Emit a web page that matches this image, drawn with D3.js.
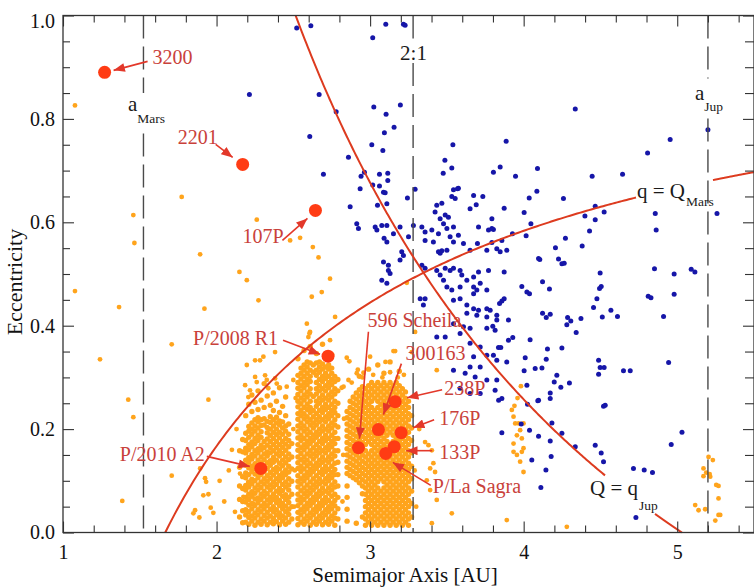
<!DOCTYPE html>
<html><head><meta charset="utf-8">
<script src="https://cdn.jsdelivr.net/npm/d3@7"></script>
<style>body{margin:0;background:#fff}svg{display:block}</style>
</head><body>
<svg id="chart" width="754" height="588"></svg>
<script>
// ---------------- DATA ----------------
const xTickLabels = [1, 2, 3, 4, 5];
const yTickLabels = [0.0, 0.2, 0.4, 0.6, 0.8, 1.0];

// reference orbital limits [AU]
const qMarsAU = 1.666;   // Mars aphelion
const qJupAU = 5.03;     // Jupiter perihelion
const aMarsAU = 1.524;
const res21AU = 3.28;
const aJupAU = 5.2;

// dense main belt: [a, "e values x100"]
const mainBelt = [
[2.15,"3.0 6.4 9.0 12.6 15.8"],
[2.17,"1.9 4.2 6.0 8.5 10.8 13.2 15.6 18.0"],
[2.19,"2.0 3.4 4.4 5.9 6.8 8.2 9.1 10.6 11.5 13.0 14.0 15.4 16.3 17.8 19.2 22.6"],
[2.21,"1.6 2.9 4.0 5.3 6.4 7.4 8.8 9.7 11.2 12.5 13.6 14.5 16.0 17.0 18.4 19.6 20.5 24.8"],
[2.23,"2.2 3.2 4.6 5.6 7.0 7.9 9.4 10.3 11.8 12.8 14.2 15.1 16.6 17.5 19.0 20.0 21.2 23.4 26.6"],
[2.25,"1.4 2.8 3.8 5.2 6.5 7.6 8.6 10.0 11.3 12.4 13.3 14.8 15.8 17.2 18.2 19.6 20.6 21.8 25.2"],
[2.27,"2.0 3.4 4.4 5.8 6.7 8.2 9.2 10.6 11.6 13.0 14.0 15.4 16.2 17.8 18.8 20.2 21.4 22.2 23.8 27.4"],
[2.29,"1.6 2.6 4.0 5.1 6.4 7.4 8.7 9.8 11.2 12.2 13.5 14.6 16.0 16.9 18.4 19.5 20.7 21.8 25.6"],
[2.31,"2.2 3.3 4.6 5.6 7.0 8.0 9.4 10.4 11.8 12.7 14.1 15.2 16.4 17.6 20.8 22.0 24.2 28.8"],
[2.33,"1.5 2.8 3.9 5.2 6.3 7.5 8.8 9.9 11.0 12.4 13.5 14.8 15.6 16.9 18.1 19.3 20.3 21.5 26.4"],
[2.35,"2.0 3.2 4.5 5.8 6.8 8.2 9.2 10.5 11.6 13.0 13.9 15.4 16.4 17.6 18.8 20.0 21.3 22.4 24.6"],
[2.37,"1.7 2.7 4.0 5.0 6.4 7.4 8.8 9.8 11.1 12.2 13.6 14.5 15.8 17.0 18.2 19.4 20.6 21.8 23.6 27.0"],
[2.39,"2.1 3.4 4.4 5.8 6.8 8.0 9.3 10.4 11.7 12.6 14.0 15.2 16.4 17.6 18.9 20.0 21.2 22.3 25.4"],
[2.41,"1.5 2.9 3.8 5.2 6.2 7.6 8.5 10.0 11.0 12.3 13.4 14.8 15.8 17.0 18.3 19.4 20.8 21.6 23.2 28.0"],
[2.43,"2.2 3.2 4.6 5.6 7.0 8.1 9.3 10.6 11.5 12.9 14.0 15.3 16.5 17.6 19.0 20.2 21.4 24.4"],
[2.45,"1.6 2.8 4.0 5.1 6.4 7.3 8.8 9.8 11.2 12.1 13.5 14.6 15.9 17.1 18.2 19.6 20.6 22.6 26.2"],
[2.47,"2.0 3.5 4.5 5.8 6.8 8.2 9.2 10.4 11.7 12.8 14.1 15.2 16.6 17.8 19.0 21.0"],
[2.49,"2.6 5.0 7.4 9.9 12.3 14.6 17.2"],
[2.53,"1.5 2.7 3.9 5.2 6.3 7.4 8.8 9.9 11.0 12.4 13.5 14.6 15.9 17.0 18.3 19.5 20.6 21.9 23.0 24.3 25.4 26.7 27.9 29.0 30.4 33.6"],
[2.55,"2.0 3.4 4.4 5.8 6.8 8.1 9.4 10.4 11.8 12.8 14.1 15.3 16.4 17.8 18.8 20.2 21.2 22.6 23.6 24.9 26.0 27.4 28.4 29.7 30.8 31.8"],
[2.57,"1.6 2.6 4.0 5.0 6.4 7.5 8.6 10.0 11.0 12.3 13.6 14.6 16.0 17.0 18.2 19.6 20.6 22.0 23.0 24.2 25.6 26.6 28.0 29.0 30.2 31.4 32.4 35.2"],
[2.59,"2.2 3.2 4.6 5.6 7.0 8.0 9.2 10.6 11.6 12.9 14.0 15.2 16.6 17.6 18.9 20.0 21.4 22.4 23.8 24.8 26.2 27.2 28.6 29.6 30.8 32.0 33.0"],
[2.61,"1.4 2.8 3.8 5.2 6.2 7.6 8.6 9.8 11.2 12.2 13.4 14.8 15.8 17.2 18.2 19.4 20.8 21.8 23.2 24.2 25.4 26.8 27.8 29.2 30.2 31.4 32.8 36.0"],
[2.63,"2.0 3.4 4.4 5.8 6.8 8.2 9.2 10.4 11.8 12.8 14.2 15.2 16.4 17.8 18.8 20.2 21.2 22.4 23.6 26.3 31.0 32.4"],
[2.65,"1.6 2.6 4.0 5.0 6.4 7.4 8.8 9.8 11.0 12.4 13.4 14.8 15.8 17.0 18.4 19.4 20.8 21.8 23.0 24.4 25.4 26.8 27.8 29.0 30.4 31.4 32.8 34.6"],
[2.67,"2.2 3.2 4.6 5.6 7.0 8.0 9.4 10.4 11.6 13.0 14.0 15.4 16.4 17.6 19.0 20.0 21.4 22.4 23.6 25.0 26.0 27.4 28.4 29.6 31.0 32.0 33.0"],
[2.69,"1.5 2.8 3.8 5.2 6.2 7.6 8.6 9.8 11.2 12.2 13.6 14.6 15.8 17.2 18.2 19.6 20.6 21.8 23.2 24.2 25.6 26.6 27.8 29.2 30.2 31.6 32.6 36.4"],
[2.71,"2.0 3.4 4.4 5.8 6.8 8.0 9.4 10.4 11.8 12.8 14.0 15.4 16.4 17.8 18.8 20.0 21.4 22.4 23.8 24.8 26.0 27.4 28.4 29.8 30.8 32.0"],
[2.73,"1.6 2.6 4.0 5.0 6.2 7.6 8.6 10.0 11.0 12.2 13.6 14.6 16.0 17.0 18.2 19.6 20.6 22.0 23.0 24.2 25.6 26.6 28.0 29.0 30.2 31.6 32.4"],
[2.75,"2.2 3.2 4.6 5.6 7.0 8.2 9.2 10.6 11.6 12.8 14.2 15.2 16.6 17.6 18.8 20.2 21.2 22.6 23.6 24.8 26.2 27.2 28.6 29.6 30.8 31.8 34.4"],
[2.77,"1.4 2.8 3.8 5.2 6.2 7.4 8.8 9.8 11.2 12.2 13.4 14.8 15.8 17.2 18.2 19.4 20.8 21.8 23.2 24.2 25.4 26.8 27.8 29.2 30.2"],
[2.79,"2.6 4.6 6.8 9.0 11.2 13.6 15.8 18.2 20.4 22.6 25.0 27.4 29.6"],
[2.85,"2.2 4.5 6.8 9.0 11.4 12.6 13.8 15.0 16.2 17.4 18.6 19.8 21.0 22.2 23.4"],
[2.87,"11.0 12.2 13.4 14.6 15.8 17.0 18.2 19.4 20.6 21.8 23.0 24.2 25.4"],
[2.89,"10.6 11.8 13.0 14.2 15.4 16.6 17.8 19.0 20.2 21.4 22.6 23.8 25.0 26.2"],
[2.91,"1.8 10.2 11.4 12.6 13.8 15.0 16.2 17.4 18.6 19.8 21.0 22.2 23.4 24.6 25.8 27.0"],
[2.93,"9.6 10.8 12.0 13.2 14.4 15.6 16.8 18.0 19.2 20.4 21.6 22.8 24.0 25.2 26.4 27.6 30.2"],
[2.95,"3.0 7.5 9.0 10.2 11.4 12.6 13.8 15.0 16.2 17.4 18.6 19.8 21.0 22.2 23.4 24.6 25.8 27.0 28.2"],
[2.97,"1.4 2.6 3.8 5.0 6.2 7.4 8.6 9.8 11.0 12.2 13.4 14.6 15.8 17.0 18.2 19.4 20.6 21.8 23.0 24.2 25.4 26.6 27.8"],
[2.99,"2.0 3.2 4.4 5.6 6.8 8.0 9.2 10.4 11.6 12.8 14.0 15.2 17.6 18.8 20.0 21.2 22.4 23.6 24.8 26.0 27.2 28.4 31.6"],
[3.01,"1.4 2.6 3.8 5.0 6.2 7.4 8.6 9.8 11.0 12.2 13.4 14.6 15.8 17.0 18.2 19.4 20.6 21.8 23.0 24.2 25.4 26.6 27.8 29.0"],
[3.03,"2.0 3.2 4.4 5.6 6.8 8.0 9.2 10.4 11.6 12.8 14.0 15.2 16.4 17.6 18.8 20.0 21.2 22.4 23.6 26.0 27.2 28.4"],
[3.05,"1.4 2.6 3.8 5.0 6.2 7.4 8.6 9.8 11.0 12.2 13.4 14.6 15.8 17.0 18.2 19.4 20.6 21.8 23.0 24.2 25.4 26.6 27.8 29.0 32.4"],
[3.07,"2.0 3.2 4.4 5.6 6.8 8.0 10.4 11.6 12.8 14.0 15.2 16.4 17.6 18.8 20.0 21.2 22.4 23.6 24.8 26.0 27.2 28.4"],
[3.09,"1.4 2.6 3.8 5.0 6.2 7.4 8.6 9.8 11.0 12.2 13.4 14.6 15.8 17.0 18.2 19.4 20.6 21.8 23.0 24.2 25.4 26.6 27.8 29.0 30.8"],
[3.11,"2.0 3.2 4.4 5.6 6.8 8.0 9.2 10.4 11.6 12.8 14.0 15.2 16.4 17.6 18.8 20.0 21.2 22.4 23.6 24.8 26.0 27.2 28.4"],
[3.13,"1.4 2.6 3.8 5.0 6.2 7.4 8.6 9.8 11.0 12.2 13.4 14.6 15.8 17.0 19.4 20.6 21.8 23.0 24.2 25.4 26.6 27.8 29.0 33.0"],
[3.15,"2.0 3.2 4.4 5.6 6.8 8.0 9.2 10.4 11.6 12.8 14.0 15.2 16.4 17.6 18.8 20.0 21.2 22.4 23.6 24.8 26.0 27.2 28.4"],
[3.17,"1.4 2.6 3.8 5.0 6.2 7.4 8.6 9.8 11.0 12.2 13.4 14.6 15.8 17.0 18.2 19.4 20.6 21.8 23.0 24.2 25.4 26.6 27.8 29.0"],
[3.19,"2.0 3.2 4.4 5.6 6.8 8.0 9.2 10.4 11.6 12.8 14.0 15.2 16.4 17.6 18.8 20.0 21.2 22.4 23.6 24.8 26.0 27.2 28.4 31.2"],
[3.21,"1.4 2.6 3.8 5.0 6.2 7.4 8.6 9.8 11.0 12.2 13.4 14.6 15.8 17.0 18.2 19.4 20.6 21.8 23.0 24.2 25.4 26.6 27.8"],
[3.23,"2.0 3.2 4.4 5.6 6.8 8.0 9.2 10.4 11.6 12.8 14.0 15.2 16.4 17.6 18.8 20.0 21.2 22.4 23.6 24.8 26.0 27.2"],
[3.25,"1.4 2.6 3.8 5.0 6.2 7.4 8.6 9.8 11.0 12.2 13.4 14.6 15.8 17.0 18.2 19.4 20.6 21.8 23.0 24.2 25.4"],
[3.27,"3.0 5.6 8.0 10.4 12.8 15.4 17.8 20.2 22.6"]
];

// scattered asteroids [a, e]
const asteroidsSparse = [
[1.078,0.826],[1.773,0.649],[1.458,0.614],[1.465,0.560],[1.078,0.467],[1.365,0.436],[1.893,0.538],
[2.149,0.504],[2.197,0.488],[2.262,0.605],[2.273,0.449],[1.921,0.433],[1.708,0.364],[1.241,0.335],
[2.251,0.333],[2.262,0.291],[1.425,0.257],[1.947,0.257],[1.458,0.223],[1.708,0.110],[1.386,0.061],
[1.893,0.124],[1.925,0.105],[1.932,0.098],[1.914,0.072],[1.947,0.074],[1.860,0.043],[1.849,0.037],
[1.888,0.029],[1.962,0.048],[1.979,0.038],[2.153,0.114],[2.175,0.069],[2.186,0.043],[2.218,0.031],
[2.240,0.056],[2.207,0.098],[2.05,0.06],[2.08,0.12],[2.10,0.16],[2.12,0.04],[2.02,0.10],[2.13,0.20],
[2.479,0.565],[2.544,0.570],[2.627,0.552],[2.664,0.532],[2.620,0.456],[2.685,0.465],[2.739,0.491],
[2.772,0.417],[2.588,0.404],[2.609,0.388],[2.598,0.378],[3.239,0.483],[3.293,0.388],[3.434,0.314],
[3.152,0.351],[3.000,0.340],[2.913,0.308],[2.859,0.295],[2.827,0.282],[2.739,0.372],[2.653,0.346],
[2.381,0.349],[2.283,0.333],[2.197,0.324],[2.251,0.301],[2.327,0.295],[2.392,0.288],[2.500,0.295],
[2.305,0.340],[2.605,0.385],[2.848,0.338],[2.865,0.331],[2.957,0.309],[3.163,0.351],[3.271,0.349],
[2.186,0.285],[2.218,0.275],[2.207,0.262],[2.316,0.304],[2.381,0.298],[2.337,0.279],[2.457,0.282],
[2.505,0.05],[2.51,0.12],[2.50,0.20],[2.515,0.26],[2.82,0.06],[2.825,0.15],[2.83,0.22],[2.815,0.28],
[2.88,0.29],[2.95,0.30],[3.02,0.305],[3.08,0.30],[3.13,0.31],[3.18,0.30],[3.22,0.305],[3.10,0.33],[2.92,0.315],
[3.30,0.05],[3.32,0.20],[3.29,0.12],
[3.358,0.175],[3.380,0.169],[3.402,0.159],[3.412,0.134],[3.391,0.124],[3.423,0.117],[3.369,0.101],
[3.391,0.082],[3.434,0.063],[3.532,0.037],[3.402,0.018],
[3.923,0.237],[3.934,0.224],[3.945,0.211],[3.967,0.211],[3.999,0.211],[3.977,0.198],[3.956,0.188],
[3.988,0.182],[3.934,0.172],[3.999,0.163],[3.934,0.156],[3.988,0.156],[3.956,0.150],[3.977,0.137],
[3.999,0.117],[3.890,0.024],[4.281,0.011],[3.982,0.283],[3.96,0.26],[3.94,0.245],
[5.204,0.146],[5.232,0.140],[5.171,0.124],[5.189,0.116],[5.211,0.113],[5.215,0.108],[5.171,0.109],
[5.254,0.092],[5.269,0.090],[5.269,0.066],[5.117,0.053],[5.139,0.043],[5.182,0.045],[5.269,0.034],
[5.280,0.034],[5.248,0.023]
];

// comets [a, e]
const comets = [
[2.522,0.976],[2.614,0.980],[3.102,0.983],[3.217,0.983],[3.228,0.981],[3.017,0.957],
[2.214,0.847],[2.668,0.847],[2.779,0.814],[3.024,0.823],[3.104,0.809],[3.197,0.827],[3.156,0.784],
[3.093,0.773],[2.607,0.766],[3.011,0.750],[3.083,0.739],[3.539,0.750],[2.859,0.726],[3.487,0.720],
[3.532,0.705],[3.476,0.695],[2.696,0.693],[2.941,0.689],[2.963,0.697],[3.061,0.693],[3.115,0.695],
[3.115,0.681],[2.935,0.665],[3.017,0.672],[3.061,0.670],[3.087,0.658],[3.098,0.657],[3.293,0.664],
[3.243,0.647],[3.803,0.697],[3.847,0.707],[3.543,0.663],[3.575,0.666],[3.532,0.650],[3.734,0.650],
[4.336,0.819],[3.886,0.757],[5.200,0.779],[4.954,0.760],[4.807,0.734],[4.090,0.704],[3.947,0.689],
[4.446,0.689],[4.644,0.693],[4.086,0.660],[4.036,0.647],[4.259,0.646],
[3.873,0.627],[4.003,0.619],[4.047,0.597],[3.927,0.578],[4.016,0.574],[3.803,0.586],[3.858,0.565],
[3.793,0.561],[4.466,0.631],[4.524,0.620],[4.399,0.612],[4.466,0.605],[4.429,0.583],[4.272,0.569],
[4.381,0.554],[4.207,0.551],[4.857,0.617],[4.863,0.585],[5.259,0.617],[3.847,0.543],[3.890,0.546],
[4.097,0.530],[4.105,0.528],[4.227,0.529],[4.249,0.520],[4.264,0.521],[3.873,0.504],[4.498,0.502],
[4.852,0.510],[4.980,0.500],[5.091,0.509],[5.115,0.504],[3.988,0.476],[4.021,0.465],[4.038,0.462],
[4.123,0.485],[4.168,0.471],[4.505,0.476],[4.494,0.472],[4.477,0.452],[4.455,0.435],[4.512,0.417],
[4.568,0.430],[4.611,0.418],[4.811,0.457],[4.829,0.454],[4.980,0.461],[4.911,0.418],[3.873,0.452],
[3.858,0.448],[3.843,0.443],[3.782,0.430],[3.825,0.420],[3.799,0.399],[3.901,0.411],[4.123,0.424],
[4.147,0.416],[4.173,0.422],[4.286,0.416],[4.307,0.409],[4.281,0.402],[4.373,0.414],[4.342,0.387],
[3.901,0.372],[3.929,0.377],[4.042,0.373],[3.836,0.358],[3.851,0.358],[3.803,0.343],[4.155,0.355],
[4.249,0.357],[3.890,0.330],[4.010,0.338],[4.003,0.313],[4.075,0.317],[4.119,0.318],[4.147,0.335],
[4.488,0.333],[4.498,0.319],[4.524,0.319],[4.488,0.306],[4.650,0.313],[4.694,0.313],[4.944,0.329],
[4.216,0.304],[4.199,0.291],[4.242,0.281],[4.298,0.289],[4.021,0.285],[4.173,0.270],[4.097,0.256],
[3.814,0.275],[3.858,0.259],[3.837,0.256],[4.025,0.248],[4.173,0.259],[4.092,0.255],[3.984,0.210],
[4.038,0.198],[3.858,0.193],[4.097,0.186],[4.184,0.212],[4.249,0.192],[4.173,0.177],[4.336,0.166],
[4.179,0.147],[4.053,0.140],[4.145,0.121],[4.112,0.087],[4.466,0.169],[4.505,0.154],[4.520,0.137],
[4.520,0.244],[4.531,0.246],[4.715,0.124],[4.785,0.121],[4.839,0.116],[4.731,0.029],[4.961,0.170],
[5.031,0.194],
[2.870,0.630],[3.048,0.633],[3.109,0.636],[3.423,0.620],[3.434,0.633],[3.467,0.637],[3.554,0.646],
[3.569,0.665],[3.674,0.652],[3.456,0.607],[3.489,0.614],[3.510,0.610],[3.651,0.626],[3.691,0.634],
[3.793,0.607],[3.793,0.588],[3.771,0.585],[2.913,0.597],[2.924,0.588],[3.033,0.591],[3.044,0.585],
[3.076,0.594],[3.091,0.569],[3.109,0.562],[3.152,0.578],[3.109,0.594],[3.195,0.591],[3.282,0.594],
[3.250,0.572],[3.337,0.591],[3.358,0.581],[3.402,0.585],[3.358,0.565],[3.412,0.562],[3.445,0.578],
[3.478,0.597],[3.500,0.588],[3.543,0.591],[3.521,0.572],[3.575,0.575],[3.543,0.562],[3.608,0.559],
[3.651,0.546],[3.445,0.543],[3.456,0.540],[3.467,0.545],[3.500,0.546],[3.706,0.591],[3.699,0.559],
[3.760,0.546],[3.825,0.549],[3.087,0.523],[3.119,0.517],[3.119,0.507],[3.130,0.501],[3.076,0.488],
[3.109,0.482],[3.206,0.543],[3.217,0.536],[3.195,0.527],[3.337,0.517],[3.358,0.511],[3.434,0.507],
[3.456,0.498],[3.489,0.511],[3.521,0.507],[3.543,0.511],[3.586,0.507],[3.597,0.498],[3.630,0.488],
[3.674,0.494],[3.706,0.504],[3.771,0.507],[3.478,0.488],[3.500,0.475],[3.532,0.469],[3.586,0.475],
[3.674,0.475],[3.695,0.469],[3.717,0.482],[3.674,0.462],[3.760,0.469],[3.326,0.452],[3.358,0.452],
[3.347,0.440],[3.543,0.449],[3.586,0.452],[3.630,0.440],[3.674,0.433],[3.706,0.430],[3.760,0.433],
[3.825,0.411],[3.630,0.424],[3.695,0.420],[3.760,0.417],[3.543,0.404],[3.608,0.398],[3.651,0.395],
[3.760,0.395],[3.814,0.391],[3.489,0.378],[3.434,0.378],[3.586,0.385],[3.651,0.366],[3.717,0.359],
[3.674,0.340],[3.760,0.343],[3.651,0.320],[3.717,0.320],[3.825,0.333],[3.543,0.314],[3.619,0.308],
[3.684,0.301],[3.760,0.295],[3.825,0.295],[3.586,0.279],[3.651,0.269],[3.717,0.269]
];

// active / named objects
const activeNames = ["3200","2201","107P","P/2008 R1","596 Scheila","300163","238P","176P","133P","P/La Sagra","P/2010 A2"];
const activeA = [1.271, 2.170, 2.644, 2.726, 2.924, 3.054, 3.163, 3.202, 3.157, 3.102, 2.288];
const activeE = [0.890, 0.712, 0.623, 0.341, 0.164, 0.199, 0.253, 0.193, 0.166, 0.153, 0.124];

// ---------------- LAYOUT (pixel offsets relative to each object) ----------------
const annotLayout = [
 {lx:48,ly:-8, tx:43,ty:-11, hx:9,hy:-2},
 {lx:-65,ly:-20, tx:-27,ty:-20, hx:-10,hy:-7},
 {lx:-73,ly:33, tx:-33,ty:30, hx:-8,hy:8},
 {lx:-135,ly:-11, tx:-45,ty:-16, hx:-8,hy:-2},
 {lx:9,ly:-121, tx:10,ty:-116, hx:1,hy:-9},
 {lx:27,ly:-70, tx:23,ty:-66, hx:5,hy:-15},
 {lx:49,ly:-7, tx:47,ty:-12, hx:12,hy:-4},
 {lx:38,ly:-8, tx:33,ty:-13, hx:12,hy:-5},
 {lx:45,ly:12, tx:38,ty:4, hx:12,hy:4},
 {lx:47,ly:40, tx:45,ty:32, hx:7,hy:9},
 {lx:-141,ly:-7, tx:-54,ty:-12, hx:-11,hy:-2}
];

const SERIF = "'Liberation Serif','Times New Roman',Times,serif";
const C = {orange:"#ffa41c", blue:"#1616a8", dot:"#ff3c14", curve:"#dd3b1f", label:"#c9413a", arrow:"#e3382a", dash:"#4a4a4a", axis:"#333"};

const svg = d3.select("#chart");
const L = 63, R = 754, T = 15.5, B = 532.5;
const x = d3.scaleLinear().domain([1, 5.5]).range([L, R]);
const y = d3.scaleLinear().domain([0, 1]).range([B, T]);

// ---------- points ----------
const beltPts = [];
mainBelt.forEach(([a, s]) => s.split(" ").forEach(v => beltPts.push([a, +v / 100])));

svg.append("g").selectAll("circle").data(beltPts).join("circle")
  .attr("cx", d => x(d[0])).attr("cy", d => y(d[1])).attr("r", 2.7).attr("fill", C.orange);
svg.append("g").selectAll("circle").data(asteroidsSparse).join("circle")
  .attr("cx", d => x(d[0])).attr("cy", d => y(d[1])).attr("r", 2.4).attr("fill", C.orange);
svg.append("g").selectAll("circle").data(comets).join("circle")
  .attr("cx", d => x(d[0])).attr("cy", d => y(d[1])).attr("r", 2.5).attr("fill", C.blue);

// ---------- dashed verticals ----------
function vdash(a, segs) {
  segs.forEach(([e0, e1]) => {
    svg.append("line").attr("x1", x(a)).attr("x2", x(a)).attr("y1", y(e0)).attr("y2", y(e1))
      .attr("stroke", C.dash).attr("stroke-width", 1.4).attr("stroke-dasharray", "23,8");
  });
}
vdash(aMarsAU, [[1, 0.85], [0.772, 0]]);
vdash(res21AU, [[1, 0.947], [0.908, 0]]);
vdash(aJupAU, [[1, 0.878], [0.801, 0]]);

// ---------- orbit-limit curves ----------
const line = d3.line().x(d => x(d[0])).y(d => y(d[1]));
function curve(fn, a0, a1) {
  const pts = d3.range(0, 201).map(i => { const a = a0 + (a1 - a0) * i / 200; return [a, fn(a)]; });
  svg.append("path").attr("d", line(pts)).attr("fill", "none").attr("stroke", C.curve).attr("stroke-width", 2);
}
const qCurve = a => 1 - qMarsAU / a;
const QCurve = a => qJupAU / a - 1;
curve(qCurve, qMarsAU, x.invert(636));
curve(qCurve, x.invert(713), 5.5);
curve(QCurve, qJupAU / 2, x.invert(605));
curve(QCurve, x.invert(655), qJupAU);

// ---------- axes ----------
function styleAxis(g) {
  g.select(".domain").remove();
  g.selectAll("line").attr("stroke", C.axis).attr("stroke-width", 1.1);
  g.selectAll("text").attr("font-family", SERIF).attr("font-size", 20).attr("fill", "#111");
  return g;
}
const xMinor = d3.range(1.2, 5.5, 0.2).filter(v => Math.abs(v - Math.round(v)) > 0.01);
const yMinor = d3.range(0.05, 1.0, 0.05).filter(v => Math.abs(v * 5 - Math.round(v * 5)) > 0.01);
styleAxis(svg.append("g").attr("transform", `translate(0,${B})`)
  .call(d3.axisBottom(x).tickValues(xTickLabels).tickSize(-11).tickSizeOuter(0).tickPadding(12).tickFormat(d3.format("d"))));
styleAxis(svg.append("g").attr("transform", `translate(0,${B})`)
  .call(d3.axisBottom(x).tickValues(xMinor).tickSize(-7).tickSizeOuter(0).tickFormat("")));
styleAxis(svg.append("g").attr("transform", `translate(0,${T})`)
  .call(d3.axisTop(x).tickValues(xTickLabels).tickSize(-11).tickSizeOuter(0).tickFormat("")));
styleAxis(svg.append("g").attr("transform", `translate(0,${T})`)
  .call(d3.axisTop(x).tickValues(xMinor).tickSize(-7).tickSizeOuter(0).tickFormat("")));
const gl = styleAxis(svg.append("g").attr("transform", `translate(${L},0)`)
  .call(d3.axisLeft(y).tickValues(yTickLabels).tickSize(-11).tickSizeOuter(0).tickPadding(8).tickFormat(d3.format(".1f"))));
gl.selectAll(".tick").filter(d => d === 1).select("text").attr("dy", "0.62em");
styleAxis(svg.append("g").attr("transform", `translate(${L},0)`)
  .call(d3.axisLeft(y).tickValues(yMinor).tickSize(-7).tickSizeOuter(0).tickFormat("")));
styleAxis(svg.append("g").attr("transform", `translate(${R},0)`)
  .call(d3.axisRight(y).tickValues(yTickLabels).tickSize(-11).tickSizeOuter(0).tickFormat("")));
styleAxis(svg.append("g").attr("transform", `translate(${R},0)`)
  .call(d3.axisRight(y).tickValues(yMinor).tickSize(-9).tickSizeOuter(0).tickFormat("")));

svg.append("rect").attr("x", L).attr("y", T).attr("width", R - L).attr("height", B - T)
  .attr("fill", "none").attr("stroke", C.axis).attr("stroke-width", 1.3);

// axis titles
svg.append("text").attr("x", 405).attr("y", 582).attr("text-anchor", "middle")
  .attr("font-family", SERIF).attr("font-size", 21).attr("fill", "#111").text("Semimajor Axis [AU]");
svg.append("text").attr("transform", "translate(22,282) rotate(-90)").attr("text-anchor", "middle")
  .attr("font-family", SERIF).attr("font-size", 22).attr("fill", "#111").text("Eccentricity");

// ---------- reference labels ----------
function subLabel(px, py, main, sub, subDx, subDy, col) {
  const t = svg.append("text").attr("x", px).attr("y", py).attr("font-family", SERIF).attr("fill", col || "#1a1a1a");
  t.append("tspan").attr("font-size", 21).text(main);
  if (sub) t.append("tspan").attr("font-size", 13.5).attr("dx", subDx).attr("dy", subDy).text(sub);
}
subLabel(x(aMarsAU) - 15.5, 111, "a", "Mars", 0, 11.5);
subLabel(x(res21AU) - 13, 60, "2:1", null);
subLabel(x(aJupAU) - 13, 100, "a", "Jup", 0, 11);
subLabel(637, 198, "q = Q", "Mars", 1, 7.5);
subLabel(590, 495, "Q = q", "Jup", 1, 15);

// ---------- active objects, arrows, names ----------
const defs = svg.append("defs");
defs.append("marker").attr("id", "ah").attr("viewBox", "0 0 10 8").attr("refX", 10).attr("refY", 4)
  .attr("markerWidth", 12).attr("markerHeight", 9).attr("markerUnits", "userSpaceOnUse").attr("orient", "auto")
  .append("path").attr("d", "M0,0L10,4L0,8Z").attr("fill", C.arrow);

const active = activeNames.map((n, i) => ({name: n, a: activeA[i], e: activeE[i], lay: annotLayout[i]}));
svg.append("g").selectAll("circle").data(active).join("circle")
  .attr("cx", d => x(d.a)).attr("cy", d => y(d.e)).attr("r", 6.5).attr("fill", C.dot);
svg.append("g").selectAll("line").data(active).join("line")
  .attr("x1", d => x(d.a) + d.lay.tx).attr("y1", d => y(d.e) + d.lay.ty)
  .attr("x2", d => x(d.a) + d.lay.hx).attr("y2", d => y(d.e) + d.lay.hy)
  .attr("stroke", C.arrow).attr("stroke-width", 1.6).attr("marker-end", "url(#ah)");
svg.append("g").selectAll("text").data(active).join("text")
  .attr("x", d => x(d.a) + d.lay.lx).attr("y", d => y(d.e) + d.lay.ly)
  .attr("font-family", SERIF).attr("font-size", 20).attr("fill", C.label).text(d => d.name);
</script>
</body></html>
